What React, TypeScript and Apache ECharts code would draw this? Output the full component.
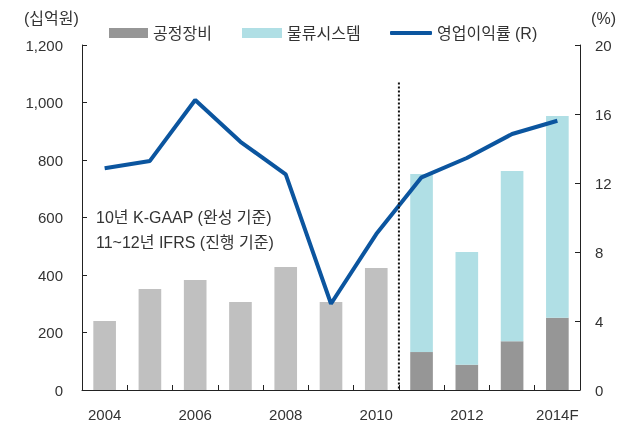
import React, { useEffect, useRef } from "react";
import * as echarts from "echarts";

const categories = ["2004", "2005", "2006", "2007", "2008", "2009", "2010", "2011", "2012", "2013", "2014F"];
const totalSales = [240, 351, 383, 306, 428, 306, 424, null, null, null, null];
const processEquip = [null, null, null, null, null, null, null, 132, 88, 170, 251];
const logistics = [null, null, null, null, null, null, null, 619, 392, 592, 702];
const opMargin = [12.85, 13.28, 16.81, 14.39, 12.5, 5.0, 9.04, 12.33, 13.45, 14.84, 15.61];
const leftTicks = { min: 0, max: 1200, interval: 200 };
const rightTicks = { min: 0, max: 20, interval: 4 };
const noteLines = ["10년 K-GAAP (완성 기준)", "11~12년 IFRS (진행 기준)"];

const FONT = "'Liberation Sans', 'Noto Sans CJK KR', sans-serif";
const AXIS_COLOR = "#222";
const TEXT_COLOR = "#333";
const LINE_COLOR = "#0b559f";

export default function App() {
  const ref = useRef<HTMLDivElement>(null);
  useEffect(() => {
    if (!ref.current) return;
    const chart = echarts.init(ref.current, undefined, { renderer: "svg" });
    const legendText = { fontFamily: FONT, fontSize: 16, color: TEXT_COLOR };
    chart.setOption({
      animation: false,
      textStyle: { fontFamily: FONT },
      grid: { left: 82, right: 44, top: 45, bottom: 36, containLabel: false },
      legend: [
        { data: [{ name: "공정장비", icon: "rect" }], left: 109, top: 25, padding: 0, itemWidth: 39, itemHeight: 10, textStyle: legendText },
        { data: [{ name: "물류시스템", icon: "rect" }], left: 242, top: 25, padding: 0, itemWidth: 40, itemHeight: 10, textStyle: legendText },
        { data: [{ name: "영업이익률 (R)", icon: "roundRect" }], left: 390, top: 25, padding: 0, itemWidth: 42, itemHeight: 4, textStyle: legendText },
      ],
      xAxis: {
        type: "category",
        data: categories,
        axisLine: { lineStyle: { color: AXIS_COLOR, width: 1 } },
        axisTick: { show: true, inside: true, length: 5, interval: 0, lineStyle: { color: AXIS_COLOR } },
        axisLabel: { interval: 1, color: TEXT_COLOR, fontSize: 15, fontFamily: FONT, margin: 17 },
      },
      yAxis: [
        {
          type: "value",
          ...leftTicks,
          axisLine: { show: true, lineStyle: { color: AXIS_COLOR } },
          axisTick: { show: true, inside: true, length: 5, lineStyle: { color: AXIS_COLOR } },
          splitLine: { show: false },
          axisLabel: {
            color: TEXT_COLOR,
            fontSize: 15,
            fontFamily: FONT,
            margin: 19,
            formatter: (v: number) => v.toLocaleString("en-US"),
          },
        },
        {
          type: "value",
          position: "right",
          ...rightTicks,
          axisLine: { show: true, lineStyle: { color: AXIS_COLOR } },
          axisTick: { show: true, inside: true, length: 5, lineStyle: { color: AXIS_COLOR } },
          splitLine: { show: false },
          axisLabel: { color: TEXT_COLOR, fontSize: 15, fontFamily: FONT, margin: 15 },
        },
      ],
      series: [
        {
          name: "매출",
          type: "bar",
          stack: "a",
          barWidth: "50%",
          data: totalSales,
          itemStyle: { color: "#c0c0c0" },
        },
        {
          name: "공정장비",
          type: "bar",
          stack: "a",
          barWidth: "50%",
          data: processEquip,
          itemStyle: { color: "#969696" },
        },
        {
          name: "물류시스템",
          type: "bar",
          stack: "a",
          barWidth: "50%",
          data: logistics,
          itemStyle: { color: "#b0dfe5" },
        },
        {
          name: "영업이익률 (R)",
          type: "line",
          yAxisIndex: 1,
          data: opMargin,
          symbol: "none",
          lineStyle: { color: LINE_COLOR, width: 4 },
          itemStyle: { color: LINE_COLOR },
          z: 5,
        },
      ],
      graphic: [
        { type: "text", left: 24, top: 10, style: { text: "(십억원)", fontSize: 16, fontFamily: FONT, fill: TEXT_COLOR } },
        { type: "text", right: 8, top: 10, style: { text: "(%)", fontSize: 16, fontFamily: FONT, fill: TEXT_COLOR } },
        {
          type: "text",
          left: 96,
          top: 205,
          style: { text: noteLines.join("\n"), fontSize: 16, lineHeight: 25, fontFamily: FONT, fill: TEXT_COLOR },
        },
      ],
    });
    // dotted divider between 2010 and 2011
    const x1 = chart.convertToPixel({ xAxisIndex: 0 }, categories[6]) as number;
    const x2 = chart.convertToPixel({ xAxisIndex: 0 }, categories[7]) as number;
    const xm = (x1 + x2) / 2;
    const yTop = chart.convertToPixel({ yAxisIndex: 0 }, 1070) as number;
    const yBot = chart.convertToPixel({ yAxisIndex: 0 }, 0) as number;
    chart.setOption({
      graphic: [
        {},
        {},
        {},
        {
          type: "line",
          shape: { x1: xm, y1: yTop, x2: xm, y2: yBot },
          style: { stroke: "#111", lineWidth: 2, lineDash: [2, 2] },
          z: 10,
        },
      ],
    });
    return () => chart.dispose();
  }, []);
  return <div ref={ref} style={{ position: "fixed", left: 0, top: 0, width: 624, height: 426 }} />;
}
